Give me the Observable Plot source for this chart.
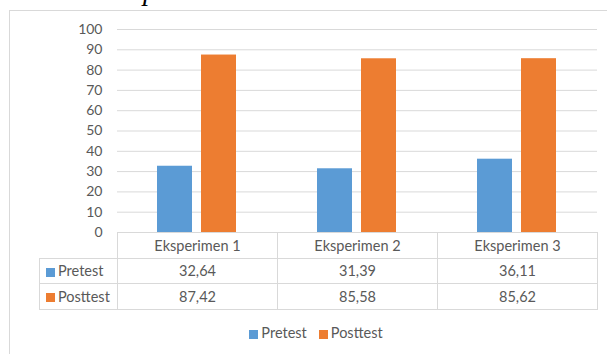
<!DOCTYPE html>
<html>
<head>
<meta charset="utf-8">
<script src="https://cdn.jsdelivr.net/npm/d3@7"></script>
<script src="https://cdn.jsdelivr.net/npm/@observablehq/plot@0.6"></script>
<style>
  html, body { margin: 0; padding: 0; background: #fff; }
  #wrap { position: relative; width: 607px; height: 354px; overflow: hidden; font-family: Lato, "Open Sans", sans-serif; color: #595959; }
  #frame { position: absolute; left: 9px; top: 10px; width: 620px; height: 400px; border: 1px solid #d9d9d9; box-sizing: border-box; }
  #chart { position: absolute; left: 0; top: 0; }
  .cap { position: absolute; top: -23px; font-family: "Liberation Serif", serif; font-style: italic; font-size: 28px; color: #000; white-space: nowrap; line-height: 1; }
  table.dt { position: absolute; left: 39px; top: 232px; border-collapse: collapse; font-size: 14.5px; color: #595959; table-layout: fixed; }
  table.dt td { border: 1px solid #d9d9d9; height: 25.5px; padding: 0; text-align: center; white-space: nowrap; box-sizing: border-box; }
  table.dt td.lab { text-align: left; padding-left: 6px; }
  .sw { display: inline-block; width: 9px; height: 9px; margin-right: 3px; vertical-align: -0.5px; }
  #legend { position: absolute; top: 324px; left: 0; width: 632px; text-align: center; font-size: 14.5px; }
  #legend span.item { margin: 0 6px; }
</style>
</head>
<body>
<div id="wrap">
  <div class="cap" id="cap1">Pretest dan</div>
  <div class="cap" id="cap2">posttest</div>
  <div id="frame"></div>
  <div id="chart"></div>
  <div id="tablehost"></div>
  <div id="legend"></div>
</div>
<script>
const categories = ["Eksperimen 1", "Eksperimen 2", "Eksperimen 3"];
const series = ["Pretest", "Posttest"];
const pretest = [32.64, 31.39, 36.11];
const posttest = [87.42, 85.58, 85.62];
const yTicks = [0, 10, 20, 30, 40, 50, 60, 70, 80, 90, 100];
const colors = ["#5B9BD5", "#ED7D31"];

const values = [pretest, posttest];
const data = [];
categories.forEach((c, i) => series.forEach((s, j) => data.push({cat: c, series: s, value: values[j][i]})));

const chart = Plot.plot({
  width: 607,
  height: 246,
  marginLeft: 117,
  marginRight: 10,
  marginTop: 29,
  marginBottom: 14,
  style: {fontFamily: "Lato, 'Open Sans', sans-serif", fontSize: "14px", color: "#595959", background: "transparent"},
  fx: {domain: categories, padding: 0, axis: null},
  x: {domain: series, paddingInner: 0.2, paddingOuter: 0.88, axis: null},
  y: {domain: [0, 100], axis: null},
  color: {domain: series, range: colors},
  marks: [
    Plot.ruleY(yTicks, {y: d => d, stroke: "#d9d9d9", strokeWidth: 1}),
    Plot.axisY({ticks: yTicks, tickSize: 0, tickPadding: 15, fill: "#595959", fontSize: 14, label: null, facetAnchor: "left"}),
    Plot.barY(data, {fx: "cat", x: "series", y: "value", fill: "series"})
  ]
});
document.getElementById("chart").appendChild(chart);

// caption fragments (cut off at top of image, as in the reference)
const c1 = document.getElementById("cap1");
c1.style.left = (122 - c1.getBoundingClientRect().width) + "px";
document.getElementById("cap2").style.left = "143px";

// data table
const fmt = v => v.toFixed(2).replace(".", ",");
const table = document.createElement("table");
table.className = "dt";
const colg = document.createElement("colgroup");
[78, 160, 160, 160].forEach(w => { const c = document.createElement("col"); c.style.width = w + "px"; colg.appendChild(c); });
table.appendChild(colg);
const hr = document.createElement("tr");
const empty = document.createElement("td");
empty.style.borderTop = "none"; empty.style.borderLeft = "none";
hr.appendChild(empty);
categories.forEach(c => { const td = document.createElement("td"); td.textContent = c; hr.appendChild(td); });
table.appendChild(hr);
series.forEach((s, j) => {
  const tr = document.createElement("tr");
  const lab = document.createElement("td");
  lab.className = "lab";
  lab.innerHTML = `<span class="sw" style="background:${colors[j]}"></span>${s}`;
  tr.appendChild(lab);
  values[j].forEach(v => { const td = document.createElement("td"); td.textContent = fmt(v); tr.appendChild(td); });
  table.appendChild(tr);
});
document.getElementById("tablehost").appendChild(table);

// legend
const lg = document.getElementById("legend");
series.forEach((s, j) => {
  const sp = document.createElement("span");
  sp.className = "item";
  sp.innerHTML = `<span class="sw" style="background:${colors[j]}"></span>${s}`;
  lg.appendChild(sp);
});
</script>
</body>
</html>
